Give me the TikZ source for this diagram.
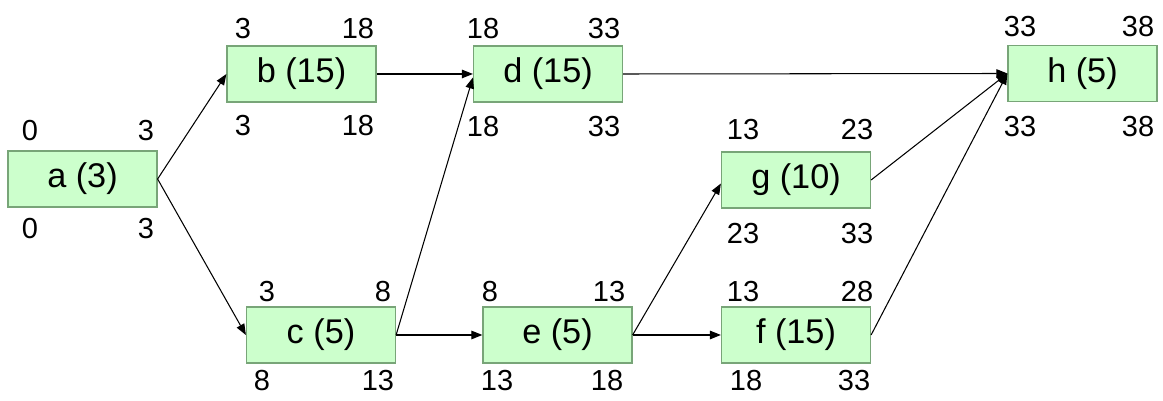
\documentclass[tikz,border=0pt]{standalone}
\usepackage{fontspec}
\setmainfont{Liberation Sans}
\usetikzlibrary{arrows.meta}
\definecolor{boxfill}{RGB}{204,255,204}
\definecolor{boxline}{RGB}{120,165,120}
\tikzset{
  act/.style={draw=boxline, fill=boxfill, line width=0.7pt, inner sep=0pt,
    minimum width=2.98cm, minimum height=1.12cm,
    font=\fontsize{19.5}{22}\selectfont},
  num/.style={inner sep=0pt, font=\fontsize{16.5}{19}\selectfont},
  link/.style={draw=black, line width=0.6pt, -{Triangle[length=0.22cm,width=0.17cm]}}
}
\begin{document}
\begin{tikzpicture}[x=0.02cm, y=-0.02cm]
\useasboundingbox (0,0) rectangle (1163,401);
% activity boxes
\node[act] (a) at (82.5,179) {a (3)};
\node[act] (b) at (301.5,74) {b (15)};
\node[act] (d) at (548,74) {d (15)};
\node[act] (h) at (1082.5,73.5) {h (5)};
\node[act] (g) at (796,180) {g (10)};
\node[act] (c) at (321,335) {c (5)};
\node[act] (e) at (557.5,335) {e (5)};
\node[act] (f) at (796,335) {f (15)};
% numbers
\node[num] (a1) at (30,131) {0};
\node[num] (a2) at (146,131) {3};
\node[num] (a3) at (30,229) {0};
\node[num] (a4) at (146,229) {3};
\node[num] (b1) at (243,29) {3};
\node[num] (b2) at (358,29) {18};
\node[num] (b3) at (243,126) {3};
\node[num] (b4) at (358,126) {18};
\node[num] (d1) at (483,29) {18};
\node[num] (d2) at (604,29) {33};
\node[num] (d3) at (483,127) {18};
\node[num] (d4) at (604,127) {33};
\node[num] (h1) at (1020,27) {33};
\node[num] (h2) at (1138,27) {38};
\node[num] (h3) at (1020,127) {33};
\node[num] (h4) at (1138,127) {38};
\node[num] (g1) at (743,130) {13};
\node[num] (g2) at (857,130) {23};
\node[num] (g3) at (743,234) {23};
\node[num] (g4) at (857,234) {33};
\node[num] (c1) at (267,292) {3};
\node[num] (c2) at (383,292) {8};
\node[num] (c3) at (262,381) {8};
\node[num] (c4) at (378,381) {13};
\node[num] (e1) at (490,292) {8};
\node[num] (e2) at (609,292) {13};
\node[num] (e3) at (497,381) {13};
\node[num] (e4) at (607,381) {18};
\node[num] (f1) at (743,292) {13};
\node[num] (f2) at (857,292) {28};
\node[num] (f3) at (746,381) {18};
\node[num] (f4) at (854,381) {33};
% connectors
\draw[link] (a.east) -- (b.west);
\draw[link] (a.east) -- (c.west);
\draw[link] (b.east) -- (d.west);
\draw[link] (c.east) -- ([yshift=-2]d.west);
\draw[link] (c.east) -- (e.west);
\draw[link] (e.east) -- ([yshift=-2]g.west);
\draw[link] (e.east) -- (f.west);
\draw[link] (d.east) -- (h.west);
\draw[link] (g.east) -- (h.west);
\draw[link] (f.east) -- (h.west);
\end{tikzpicture}
\end{document}
